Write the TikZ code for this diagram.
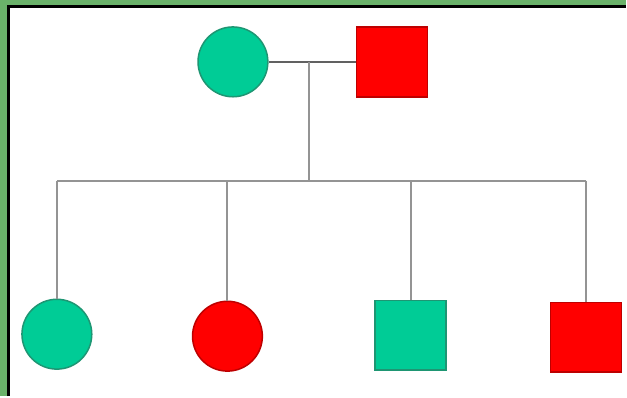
\documentclass[tikz,border=0pt]{standalone}
\definecolor{framegreen}{RGB}{106,178,106}
\definecolor{teal1}{RGB}{0,204,150}
\definecolor{teal2}{RGB}{30,150,115}
\definecolor{red1}{RGB}{255,0,0}
\definecolor{red2}{RGB}{190,0,0}
\begin{document}
\begin{tikzpicture}[x=1pt,y=-1pt,
    female/.style={circle,draw,line width=1.5pt,minimum size=70pt,inner sep=0pt},
    male/.style={rectangle,draw,line width=1.5pt,minimum width=71pt,minimum height=70pt,inner sep=0pt},
    tie/.style={draw=black!42,line width=2pt}]
    % frame
    \fill[framegreen] (0,0) rectangle (627,397);
    \fill[white] (8.5,6.5) rectangle (627,397);
    \draw[black,line width=3pt] (8.5,397) -- (8.5,6.5) -- (627,6.5);
    % parents
    \node (mother) at (233.5,62) [female,fill=teal1,draw=teal2] {};
    \node (father) at (393,62) [male,fill=red1,draw=red2] {};
    % children
    \node (c1) at (57,335) [female,fill=teal1,draw=teal2] {};
    \node (c2) at (228,337) [female,fill=red1,draw=red2] {};
    \node (c3) at (411.5,336) [male,fill=teal1,draw=teal2] {};
    \node (c4) at (587.5,338) [male,fill=red1,draw=red2] {};
    \coordinate (m) at (310,62); \coordinate (s) at (310,181);
    \draw[draw=black!62,line width=2pt] (mother.east) -- (father.west);
    \draw[tie] (m) -- (s); \draw[tie] (c1 |- s) -- (c4 |- s);
    \draw[tie] (c1 |- s) -- (c1); \draw[tie] (c2 |- s) -- (c2);
    \draw[tie] (c3 |- s) -- (c3); \draw[tie] (c4 |- s) -- (c4);
\end{tikzpicture}
\end{document}
